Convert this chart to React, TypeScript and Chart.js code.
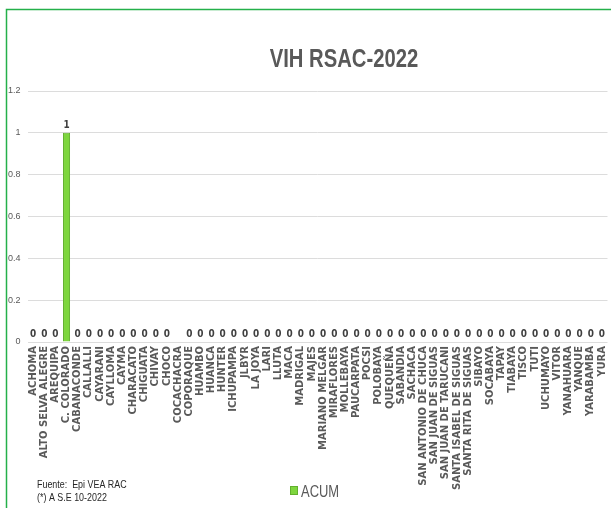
import React, { useEffect, useRef } from 'react';
import { Chart, registerables } from 'chart.js';

Chart.register(...registerables);

const categories: string[] = [
  'ACHOMA', 'ALTO SELVA ALEGRE', 'AREQUIPA', 'C. COLORADO', 'CABANACONDE', 'CALLALLI',
  'CAYARANI', 'CAYLLOMA', 'CAYMA', 'CHARACATO', 'CHIGUATA', 'CHIVAY', 'CHOCO',
  'COCACHACRA', 'COPORAQUE', 'HUAMBO', 'HUANCA', 'HUNTER', 'ICHUPAMPA', 'JLBYR',
  'LA JOYA', 'LARI', 'LLUTA', 'MACA', 'MADRIGAL', 'MAJES', 'MARIANO MELGAR',
  'MIRAFLORES', 'MOLLEBAYA', 'PAUCARPATA', 'POCSI', 'POLOBAYA', 'QUEQUEÑA', 'SABANDIA',
  'SACHACA', 'SAN ANTONIO DE CHUCA', 'SAN JUAN DE SIGUAS', 'SAN JUAN DE TARUCANI',
  'SANTA ISABEL DE SIGUAS', 'SANTA RITA DE SIGUAS', 'SIBAYO', 'SOCABAYA', 'TAPAY',
  'TIABAYA', 'TISCO', 'TUTI', 'UCHUMAYO', 'VITOR', 'YANAHUARA', 'YANQUE', 'YARABAMBA', 'YURA',
];

const acumValues: (number | null)[] = [
  0, 0, 0, 1, 0, 0,
  0, 0, 0, 0, 0, 0, 0,
  null, 0, 0, 0, 0, 0, 0,
  0, 0, 0, 0, 0, 0, 0,
  0, 0, 0, 0, 0, 0, 0,
  0, 0, 0, 0,
  0, 0, 0, 0, 0,
  0, 0, 0, 0, 0, 0, 0, 0, 0,
];

const seriesLabel = 'ACUM';
const titleText = 'VIH RSAC-2022';
const footnoteLines: string[] = ['Fuente:  Epi VEA RAC', '(*) A S.E 10-2022'];
const yMin = 0;
const yMax = 1.2;
const yStep = 0.2;

const BAR_COLOR = '#7ED63E';
const BAR_BORDER = '#62B02E';
const TEXT_GRAY = '#595959';
const FRAME_GREEN = '#24B04A';
const SX = 0.81;

function scaledText(
  ctx: CanvasRenderingContext2D,
  text: string,
  x: number,
  y: number,
  font: string,
  color: string,
  align: CanvasTextAlign,
) {
  ctx.save();
  ctx.font = font;
  ctx.fillStyle = color;
  ctx.textAlign = align;
  ctx.textBaseline = 'alphabetic';
  ctx.translate(x, y);
  ctx.scale(SX, 1);
  ctx.fillText(text, 0, 0);
  ctx.restore();
}

const overlayPlugin = {
  id: 'overlay',
  beforeDraw(chart: any) {
    const ctx: CanvasRenderingContext2D = chart.ctx;
    ctx.save();
    ctx.fillStyle = '#ffffff';
    ctx.fillRect(0, 0, chart.width, chart.height);
    ctx.strokeStyle = FRAME_GREEN;
    ctx.lineWidth = 1.5;
    ctx.beginPath();
    ctx.moveTo(6.5, chart.height);
    ctx.lineTo(6.5, 9.5);
    ctx.lineTo(chart.width, 9.5);
    ctx.stroke();
    ctx.restore();
  },
  afterDatasetsDraw(chart: any) {
    const ctx: CanvasRenderingContext2D = chart.ctx;
    const meta = chart.getDatasetMeta(0);
    const data = chart.data.datasets[0].data as (number | null)[];
    meta.data.forEach((bar: any, i: number) => {
      const v = data[i];
      if (v === null || v === undefined) return;
      scaledText(ctx, String(v), bar.x, bar.y - 5, 'bold 11px "DejaVu Sans", Verdana, sans-serif', '#404040', 'center');
    });
  },
  afterDraw(chart: any) {
    const ctx: CanvasRenderingContext2D = chart.ctx;
    // title
    scaledText(ctx, titleText, 344, 67, 'bold 25px "Liberation Sans", Arial, sans-serif', TEXT_GRAY, 'center');
    // legend
    ctx.save();
    ctx.fillStyle = BAR_COLOR;
    ctx.strokeStyle = BAR_BORDER;
    ctx.lineWidth = 1;
    ctx.fillRect(290, 486, 8, 9);
    ctx.strokeRect(290.5, 486.5, 7, 8);
    ctx.restore();
    scaledText(ctx, seriesLabel, 301, 497, '16px "Liberation Sans", Arial, sans-serif', TEXT_GRAY, 'left');
    // footnotes
    footnoteLines.forEach((line, i) => {
      scaledText(ctx, line, 37, 488 + i * 13, '11px "Liberation Sans", Arial, sans-serif', '#262626', 'left');
    });
  },
};

export default function App() {
  const canvasRef = useRef<HTMLCanvasElement | null>(null);

  useEffect(() => {
    if (!canvasRef.current) return;
    const chart = new Chart(canvasRef.current, {
      type: 'bar',
      data: {
        labels: categories,
        datasets: [
          {
            label: seriesLabel,
            data: acumValues,
            backgroundColor: BAR_COLOR,
            borderColor: BAR_BORDER,
            borderWidth: 1,
            categoryPercentage: 1,
            barPercentage: 0.63,
          },
        ],
      },
      options: {
        responsive: false,
        animation: false,
        devicePixelRatio: 1,
        layout: { padding: { top: 91, left: 0, right: 3.5, bottom: 0 } },
        plugins: {
          legend: { display: false },
          title: { display: false },
          tooltip: { enabled: false },
        },
        scales: {
          x: {
            grid: { display: false, drawTicks: false },
            border: { display: false },
            ticks: {
              autoSkip: false,
              minRotation: 90,
              maxRotation: 90,
              padding: 4,
              color: TEXT_GRAY,
              font: { family: '"DejaVu Sans", Verdana, sans-serif', size: 10, weight: 'bold' },
            },
            afterFit: (s: any) => {
              s.height = 166;
              s.paddingLeft = 0;
              s.paddingRight = 0;
            },
          },
          y: {
            min: yMin,
            max: yMax,
            grid: { color: '#dcdcdc', drawTicks: false, lineWidth: 1 },
            border: { display: false },
            ticks: {
              stepSize: yStep,
              padding: 7,
              color: TEXT_GRAY,
              font: { family: '"Liberation Sans", Arial, sans-serif', size: 9 },
              callback: (v: any) => String(Math.round(Number(v) * 10) / 10),
            },
            afterFit: (s: any) => {
              s.width = 27.5;
              s.paddingTop = 0;
              s.paddingBottom = 0;
            },
          },
        },
      },
      plugins: [overlayPlugin],
    });
    return () => chart.destroy();
  }, []);

  return (
    <div style={{ position: 'fixed', left: 0, top: 0, width: 611, height: 508, background: '#fff' }}>
      <canvas ref={canvasRef} width={611} height={508} style={{ display: 'block' }} />
    </div>
  );
}
